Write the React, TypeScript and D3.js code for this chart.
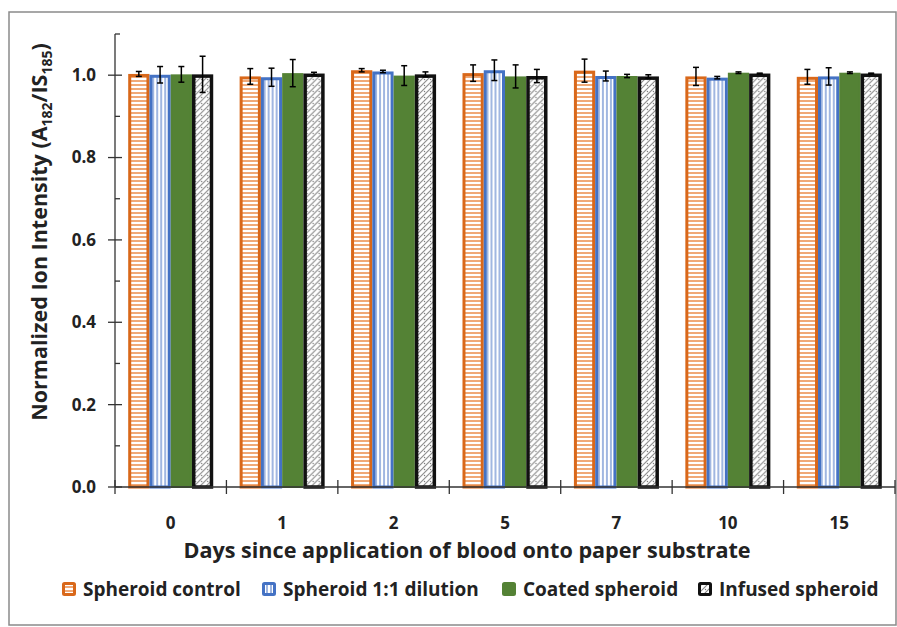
import React from 'react';
import * as d3 from 'd3';

// days since application
const days = ['0', '1', '2', '5', '7', '10', '15'];
const seriesNames = ['Spheroid control', 'Spheroid 1:1 dilution', 'Coated spheroid', 'Infused spheroid'];

const controlMean = [1.003, 0.997, 1.012, 1.005, 1.011, 0.997, 0.996];
const controlErr = [0.006, 0.019, 0.004, 0.02, 0.028, 0.022, 0.018];
const dilutionMean = [1.001, 0.995, 1.009, 1.012, 0.998, 0.994, 0.997];
const dilutionErr = [0.02, 0.022, 0.003, 0.025, 0.012, 0.003, 0.021];
const coatedMean = [1.002, 1.005, 0.999, 0.997, 0.998, 1.006, 1.006];
const coatedErr = [0.019, 0.033, 0.024, 0.028, 0.004, 0.002, 0.002];
const infusedMean = [1.002, 1.004, 1.002, 0.998, 0.997, 1.004, 1.004];
const infusedErr = [0.044, 0.003, 0.006, 0.016, 0.004, 0.001, 0.001];

const yTicks = [0, 0.2, 0.4, 0.6, 0.8, 1.0];
const yMinorTicks = [0.1, 0.3, 0.5, 0.7, 0.9, 1.1];

const means = [controlMean, dilutionMean, coatedMean, infusedMean];
const errs = [controlErr, dilutionErr, coatedErr, infusedErr];

const ORANGE = '#D9681A';
const BLUE = '#4472C4';
const GREEN = '#548235';
const BLACK = '#111';

const styles = [
  { fill: 'url(#patOrange)', stroke: ORANGE, sw: 3 },
  { fill: 'url(#patBlue)', stroke: BLUE, sw: 3 },
  { fill: GREEN, stroke: GREEN, sw: 2 },
  { fill: 'url(#patBlack)', stroke: BLACK, sw: 3.5 },
];

const FONT = '"Open Sans", Lato, sans-serif';

export default function App() {
  const W = 897;
  const H = 627;
  const left = 115;
  const right = 895;
  const bottom = 487;
  const top = 34;

  const x = d3.scaleBand<string>().domain(days).range([left, right]).paddingInner(0.237).paddingOuter(0.1185);
  const xs = d3.scaleBand<string>().domain(seriesNames).range([0, x.bandwidth()]);
  const y = d3.scaleLinear().domain([0, 1.1]).range([bottom, top]);
  const step = x.step();

  const legendX = [62, 262, 502, 698];

  return (
    <svg width={W} height={H} style={{ position: 'absolute', left: 0, top: 0 }} fontFamily={FONT}>
      <defs>
        <pattern id="patOrange" width="4" height="4" patternUnits="userSpaceOnUse">
          <rect width="4" height="4" fill="#fff" />
          <line x1="0" y1="1" x2="4" y2="1" stroke="#EE9A5E" strokeWidth="1.7" />
        </pattern>
        <pattern id="patBlue" width="4" height="4" patternUnits="userSpaceOnUse">
          <rect width="4" height="4" fill="#fff" />
          <line x1="1" y1="0" x2="1" y2="4" stroke="#8FAADC" strokeWidth="1.7" />
        </pattern>
        <pattern id="patBlack" width="6" height="6" patternUnits="userSpaceOnUse">
          <rect width="6" height="6" fill="#fff" />
          <path d="M0,6 L6,0 M-1,1 L1,-1 M5,7 L7,5" stroke="#888" strokeWidth="1.1" />
          <circle cx="1.5" cy="1.5" r="0.7" fill="#777" />
        </pattern>
      </defs>

      <rect x={9} y={12} width={887} height={613} fill="#fff" stroke="#8a8a8a" strokeWidth={1.5} />

      {/* bars */}
      {days.map((d, i) => (
        <g key={d} transform={`translate(${x(d)},0)`}>
          {seriesNames.map((s, k) => {
            const v = means[k][i];
            const bx = xs(s)!;
            const bw = xs.bandwidth();
            const st = styles[k];
            const half = st.sw / 2;
            return (
              <rect key={s} x={bx + half} y={y(v) + half} width={bw - st.sw} height={bottom - y(v) - half}
                fill={st.fill} stroke={st.stroke} strokeWidth={st.sw} />
            );
          })}
        </g>
      ))}

      {/* error bars */}
      {days.map((d, i) => (
        <g key={'e' + d} transform={`translate(${x(d)},0)`}>
          {seriesNames.map((s, k) => {
            const v = means[k][i];
            const e = errs[k][i];
            const cx = xs(s)! + xs.bandwidth() / 2;
            return (
              <g key={s} stroke="#000" strokeWidth={1.5}>
                <line x1={cx} x2={cx} y1={y(v + e)} y2={y(v - e)} />
                <line x1={cx - 3} x2={cx + 3} y1={y(v + e)} y2={y(v + e)} />
                <line x1={cx - 3} x2={cx + 3} y1={y(v - e)} y2={y(v - e)} />
              </g>
            );
          })}
        </g>
      ))}

      {/* y axis */}
      <line x1={left} x2={left} y1={y(1.1)} y2={bottom} stroke="#333" strokeWidth={1.3} />
      {yTicks.map((t) => (
        <g key={t}>
          <line x1={left - 7} x2={left + 7} y1={y(t)} y2={y(t)} stroke="#333" strokeWidth={1.3} />
          <text x={96} y={y(t)} dy="0.35em" textAnchor="end" fontSize={17} fontWeight={700} fill="#222">
            {t.toFixed(1)}
          </text>
        </g>
      ))}
      {yMinorTicks.map((t) => (
        <line key={t} x1={left} x2={left + 5} y1={y(t)} y2={y(t)} stroke="#333" strokeWidth={1.3} />
      ))}

      {/* x axis */}
      <line x1={left} x2={right} y1={bottom} y2={bottom} stroke="#333" strokeWidth={1.3} />
      {days.map((d) => (
        <line key={'t' + d} x1={x(d)! - step * 0.1185} x2={x(d)! - step * 0.1185} y1={bottom - 7} y2={bottom + 7}
          stroke="#333" strokeWidth={1.3} />
      ))}
      <line x1={right} x2={right} y1={bottom - 7} y2={bottom + 7} stroke="#333" strokeWidth={1.3} />
      {days.map((d) => (
        <text key={'l' + d} x={x(d)! + x.bandwidth() / 2} y={529} textAnchor="middle" fontSize={17} fontWeight={700} fill="#222">
          {d}
        </text>
      ))}

      <text x={467} y={558} textAnchor="middle" fontSize={21.6} fontWeight={700} fill="#222">
        Days since application of blood onto paper substrate
      </text>

      <text transform="translate(47,232) rotate(-90)" textAnchor="middle" fontSize={21.5} fontWeight={700} fill="#222">
        Normalized Ion Intensity (A
        <tspan fontSize={14} dy={5}>182</tspan>
        <tspan dy={-5}>/IS</tspan>
        <tspan fontSize={14} dy={5}>185</tspan>
        <tspan dy={-5}>)</tspan>
      </text>

      {/* legend */}
      {seriesNames.map((s, k) => (
        <g key={'lg' + s} transform={`translate(${legendX[k]},582)`}>
          <rect x={1.5} y={1.5} width={11} height={11} fill={styles[k].fill} stroke={styles[k].stroke} strokeWidth={3} rx={1} />
          <text x={21} y={7} dy="0.35em" fontSize={19} fontWeight={700} fill="#222">{s}</text>
        </g>
      ))}
    </svg>
  );
}
